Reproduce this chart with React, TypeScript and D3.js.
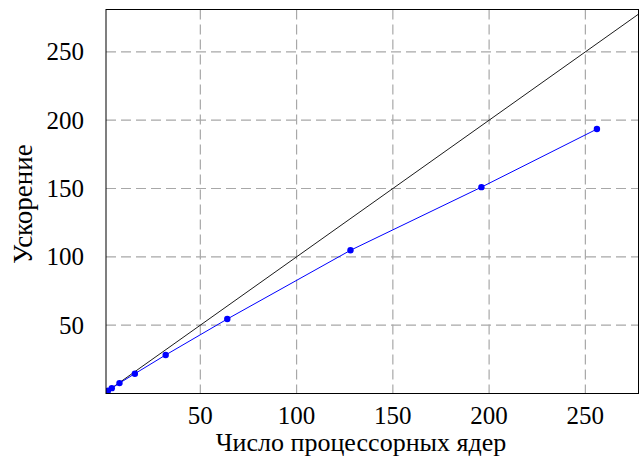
import React, { useEffect, useRef } from "react";
import * as d3 from "d3";

// cores vs measured speedup
const cores = [1, 2, 4, 8, 16, 32, 64, 128, 196, 256];
const speedup = [1, 2, 3.9, 7.6, 14.5, 28.2, 54.5, 104.8, 151, 193.5];
const idealX = [1, 278];
const xTicks = [50, 100, 150, 200, 250];
const yTicks = [50, 100, 150, 200, 250];

const App = () => {
  const ref = useRef<SVGSVGElement>(null);

  useEffect(() => {
    const width = 639;
    const height = 461;
    const left = 106;
    const right = 638.5;
    const top = 9.5;
    const bottom = 393.5;

    const svg = d3.select(ref.current).attr("width", width).attr("height", height);
    svg.selectAll("*").remove();

    const x = d3.scaleLinear().domain([1, 277.6]).range([left, right]);
    const y = d3.scaleLinear().domain([0, 281]).range([bottom, top]);
    const font = "'Liberation Serif', 'DejaVu Serif', serif";

    // grid
    const grid = svg.append("g").attr("stroke", "#a8a8a8").attr("stroke-width", 1.2).attr("stroke-dasharray", "10,5");
    grid.selectAll(".gx").data(xTicks).enter().append("line")
      .attr("x1", d => x(d)).attr("x2", d => x(d)).attr("y1", top).attr("y2", bottom);
    grid.selectAll(".gy").data(yTicks).enter().append("line")
      .attr("x1", left).attr("x2", right).attr("y1", d => y(d)).attr("y2", d => y(d));

    svg.append("clipPath").attr("id", "plotclip").append("rect")
      .attr("x", left).attr("y", top).attr("width", right - left).attr("height", bottom - top);

    const plot = svg.append("g").attr("clip-path", "url(#plotclip)");

    // ideal speedup
    plot.append("line")
      .attr("x1", x(idealX[0])).attr("y1", y(idealX[0]))
      .attr("x2", x(idealX[1])).attr("y2", y(idealX[1]))
      .attr("stroke", "black").attr("stroke-width", 0.9);

    const pts = cores.map((c, i) => [c, speedup[i]] as [number, number]);
    const line = d3.line<[number, number]>().x(d => x(d[0])).y(d => y(d[1]));
    plot.append("path").datum(pts).attr("d", line).attr("fill", "none")
      .attr("stroke", "#0000ff").attr("stroke-width", 1);
    plot.selectAll("circle").data(pts).enter().append("circle")
      .attr("cx", d => x(d[0])).attr("cy", d => y(d[1])).attr("r", 3.2).attr("fill", "#0000ff");

    // frame
    svg.append("rect").attr("x", left).attr("y", top).attr("width", right - left).attr("height", bottom - top)
      .attr("fill", "none").attr("stroke", "black").attr("stroke-width", 1);

    // tick labels
    svg.selectAll(".xl").data(xTicks).enter().append("text")
      .attr("x", d => x(d)).attr("y", 424).attr("text-anchor", "middle")
      .style("font-family", font).style("font-size", "25px").text(d => d);
    svg.selectAll(".yl").data(yTicks).enter().append("text")
      .attr("x", 84).attr("y", d => y(d) + 8.5).attr("text-anchor", "end")
      .style("font-family", font).style("font-size", "25px").text(d => d);

    // axis labels
    svg.append("text").attr("x", 361).attr("y", 451).attr("text-anchor", "middle")
      .style("font-family", font).style("font-size", "26px").text("Число процессорных ядер");
    svg.append("text").attr("transform", "translate(32,204) rotate(-90)").attr("text-anchor", "middle")
      .style("font-family", font).style("font-size", "27px").text("Ускорение");
  }, []);

  return (
    <div style={{ position: "absolute", left: 0, top: 0 }}>
      <svg ref={ref} style={{ display: "block" }}></svg>
    </div>
  );
};

export default App;
